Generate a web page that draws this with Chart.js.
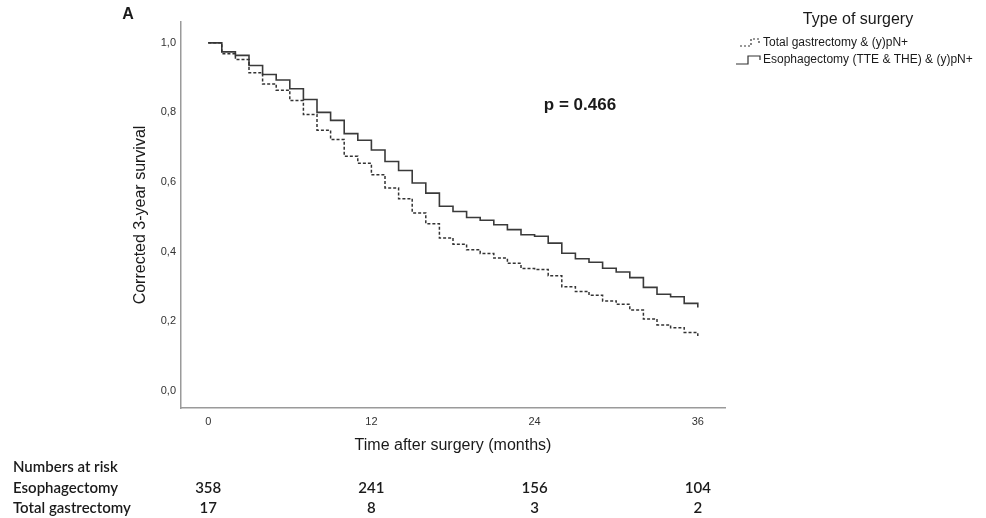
<!DOCTYPE html>
<html>
<head>
<meta charset="utf-8">
<script src="https://cdn.jsdelivr.net/npm/chart.js@4.4.0/dist/chart.umd.min.js"></script>
<style>
  body { margin: 0; background: #fff; }
  #wrap { width: 986px; height: 518px; }
</style>
</head>
<body>
<div id="wrap"><canvas id="kmchart" width="986" height="518"></canvas></div>
<script>
// months 0..36, survival level held from that month on
var months = [];
for (var m = 0; m <= 36; m++) months.push(m);

var esoSurv = [1.000, 0.974, 0.964, 0.935, 0.909, 0.893, 0.868, 0.837, 0.800, 0.777,
               0.739, 0.720, 0.692, 0.659, 0.633, 0.597, 0.568, 0.530, 0.515, 0.498,
               0.490, 0.477, 0.463, 0.448, 0.444, 0.424, 0.395, 0.379, 0.369, 0.352,
               0.341, 0.325, 0.297, 0.277, 0.270, 0.251, 0.239];

var gastSurv = [1.000, 0.969, 0.952, 0.914, 0.882, 0.864, 0.834, 0.794, 0.749, 0.722,
                0.674, 0.654, 0.621, 0.583, 0.552, 0.511, 0.480, 0.439, 0.421, 0.405,
                0.394, 0.381, 0.366, 0.351, 0.348, 0.330, 0.299, 0.285, 0.274, 0.258,
                0.248, 0.232, 0.206, 0.189, 0.181, 0.167, 0.157];

var xTicks = [0, 12, 24, 36];
var yTicks = [0, 0.2, 0.4, 0.6, 0.8, 1.0];

var riskTimes = [0, 12, 24, 36];
var esoRisk = [358, 241, 156, 104];
var gastRisk = [17, 8, 3, 2];

function toPoints(vals) {
    return months.map(function(t, i) { return { x: t, y: vals[i] }; });
}

// extra texts: panel letter, p value, legend, axis titles, risk table
const extras = {
    id: "extras",
    afterDraw(chart) {
        const ctx = chart.ctx;
        const xs = chart.scales.x;
        ctx.save();
        ctx.fillStyle = "#1a1a1a";
        ctx.textBaseline = "middle";

        ctx.font = "bold 16px 'Liberation Sans'";
        ctx.textAlign = "center";
        ctx.fillText("A", 128, 15);

        ctx.font = "bold 17px 'Liberation Sans'";
        ctx.fillText("p = 0.466", 580, 105);

        // legend
        ctx.font = "16px 'Liberation Sans'";
        ctx.textAlign = "center";
        ctx.fillText("Type of surgery", 858, 20);
        ctx.font = "12px 'Liberation Sans'";
        ctx.textAlign = "left";
        ctx.fillText("Total gastrectomy & (y)pN+", 763, 43);
        ctx.fillText("Esophagectomy (TTE & THE) & (y)pN+", 763, 60);

        ctx.strokeStyle = "#333";
        ctx.lineWidth = 1.2;
        ctx.setLineDash([2, 2]);
        ctx.beginPath();
        ctx.moveTo(740, 46); ctx.lineTo(751, 46); ctx.lineTo(751, 39);
        ctx.lineTo(759, 39); ctx.lineTo(759, 44);
        ctx.stroke();
        ctx.setLineDash([]);
        ctx.beginPath();
        ctx.moveTo(736, 64); ctx.lineTo(748, 64); ctx.lineTo(748, 56);
        ctx.lineTo(760, 56); ctx.lineTo(760, 60);
        ctx.stroke();

        // axis titles
        ctx.font = "16px 'Liberation Sans'";
        ctx.textAlign = "center";
        ctx.fillText("Time after surgery (months)", 453, 446);
        ctx.save();
        ctx.translate(141, 215);
        ctx.rotate(-Math.PI / 2);
        ctx.fillText("Corrected 3-year survival", 0, 0);
        ctx.restore();

        // numbers at risk
        ctx.font = "600 15px Lato";
        ctx.textAlign = "left";
        ctx.fillText("Numbers at risk", 13, 467);
        ctx.fillText("Esophagectomy", 13, 488);
        ctx.fillText("Total gastrectomy", 13, 508);
        ctx.textAlign = "center";
        riskTimes.forEach(function(t, i) {
            const px = xs.getPixelForValue(t);
            ctx.fillText(String(esoRisk[i]), px, 488);
            ctx.fillText(String(gastRisk[i]), px, 508);
        });
        ctx.restore();
    }
};

const ctx = document.getElementById("kmchart").getContext("2d");

const config = {
    type: "line",
    data: {
        datasets: [
            {
                label: "Total gastrectomy & (y)pN+",
                data: toPoints(gastSurv),
                borderColor: "#333",
                borderWidth: 1.5,
                borderDash: [3, 2],
                stepped: true,
                pointRadius: 0,
                fill: false
            },
            {
                label: "Esophagectomy (TTE & THE) & (y)pN+",
                data: toPoints(esoSurv),
                borderColor: "#3a3a3a",
                borderWidth: 1.6,
                stepped: true,
                pointRadius: 0,
                fill: false
            }
        ]
    },
    options: {
        responsive: false,
        animation: false,
        layout: {
            padding: { left: 150, right: 261, top: 22, bottom: 90 }
        },
        scales: {
            x: {
                type: "linear",
                min: -2,
                max: 38,
                grid: { display: false, drawTicks: false },
                border: { display: true, color: "#9a9a9a", width: 1.5 },
                afterBuildTicks: function(s) { s.ticks = xTicks.map(v => ({ value: v })); },
                afterFit: function(s) { s.height = 20; },
                ticks: {
                    padding: 7,
                    color: "#333",
                    font: { family: "Liberation Sans", size: 11 },
                    maxRotation: 0
                }
            },
            y: {
                min: -0.05,
                max: 1.06,
                grid: { display: false, drawTicks: false },
                border: { display: true, color: "#9a9a9a", width: 1.5 },
                afterBuildTicks: function(s) { s.ticks = yTicks.map(v => ({ value: v })); },
                afterFit: function(s) { s.width = 31; },
                ticks: {
                    padding: 5,
                    color: "#333",
                    font: { family: "Liberation Sans", size: 11 },
                    callback: function(v) { return v.toFixed(1).replace(".", ","); }
                }
            }
        },
        plugins: {
            legend: { display: false },
            tooltip: { enabled: false }
        }
    },
    plugins: [extras]
};

var kmChart = new Chart(ctx, config);
</script>
</body>
</html>
